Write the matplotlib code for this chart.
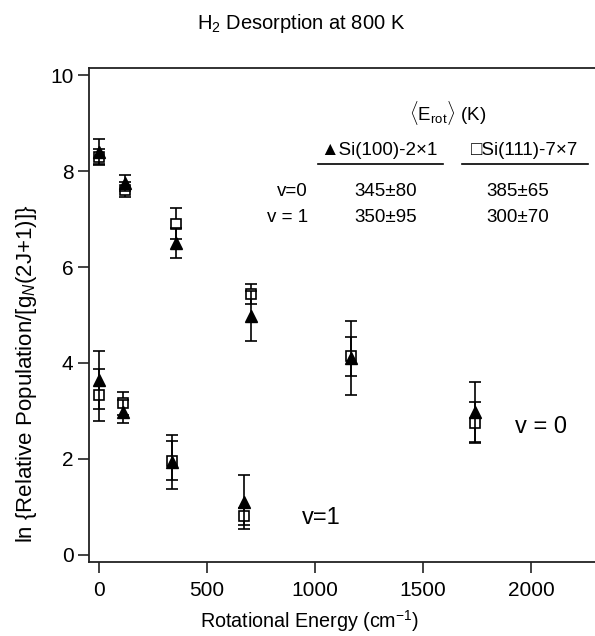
import matplotlib
matplotlib.use("Agg")
import matplotlib.pyplot as plt

plt.rcParams['font.family'] = ['Liberation Sans', 'DejaVu Sans']
plt.rcParams['mathtext.fontset'] = 'custom'
plt.rcParams['mathtext.rm'] = 'Liberation Sans'
plt.rcParams['mathtext.it'] = 'Liberation Sans:italic'
plt.rcParams['mathtext.bf'] = 'Liberation Sans:bold'

# ===== DATA =====
E_v0 = [0, 118, 354, 705, 1168, 1741]          # rotational energy, cm-1
E_v1 = [0, 112, 338, 673]

si100_v0     = [8.41, 7.75, 6.51, 4.98, 4.10, 2.98]
si100_v0_err = [0.26, 0.17, 0.31, 0.52, 0.78, 0.63]
si111_v0     = [8.30, 7.62, 6.91, 5.44, 4.14, 2.75]
si111_v0_err = [0.17, 0.15, 0.32, 0.21, 0.41, 0.43]

si100_v1     = [3.64, 2.98, 1.93, 1.10]
si100_v1_err = [0.60, 0.24, 0.56, 0.56]
si111_v1     = [3.33, 3.16, 1.96, 0.80]
si111_v1_err = [0.54, 0.24, 0.41, 0.18]

surfaces  = ["Si(100)-2\u00d71", "Si(111)-7\u00d77"]
rows      = ["v=0", "v = 1"]
erot_vals = [["345\u00b180", "385\u00b165"],
             ["350\u00b195", "300\u00b170"]]

# ===== FIGURE =====
fig = plt.figure(figsize=(5.95, 6.36), dpi=100)
ax = fig.add_axes([0.1504, 0.1168, 0.8496, 0.7758])

sq_kw  = dict(fmt="s", ms=7, mfc="white", mec="black", mew=1.2,
              ecolor="black", elinewidth=1.2, capsize=4, capthick=1.2, zorder=3)
tri_kw = dict(fmt="^", ms=8.5, mfc="black", mec="black",
              ecolor="black", elinewidth=1.2, capsize=4, capthick=1.2, zorder=4)

ax.errorbar(E_v0, si111_v0, yerr=si111_v0_err, **sq_kw)
ax.errorbar(E_v1, si111_v1, yerr=si111_v1_err, **sq_kw)
ax.errorbar(E_v0, si100_v0, yerr=si100_v0_err, **tri_kw)
ax.errorbar(E_v1, si100_v1, yerr=si100_v1_err, **tri_kw)

ax.set_xlim(-45, 2297)
ax.set_ylim(-0.15, 10.15)
ax.set_xticks([0, 500, 1000, 1500, 2000])
ax.set_yticks([0, 2, 4, 6, 8, 10])
ax.tick_params(direction="out", length=8, width=1.2, labelsize=15, color="#222222")
ax.tick_params(axis="y", pad=3.5)
ax.tick_params(axis="x", pad=6)
ax.spines["right"].set_visible(False)
for s in ["left", "bottom", "top"]:
    ax.spines[s].set_linewidth(1.3)
    ax.spines[s].set_color("#222222")

ax.set_xlabel("Rotational Energy (cm$^{-1}$)", fontsize=14.2)
ax.xaxis.set_label_coords(0.435, -0.095)
ax.set_ylabel("ln {Relative Population/[g$_N$(2J+1)]}", fontsize=16)
ax.yaxis.set_label_coords(-0.1, 0.38)
fig.text(0.506, 0.963, "H$_2$ Desorption at 800 K", fontsize=14.5,
         ha="center", va="center")

# branch labels
ax.text(1926, 2.66, "v = 0", fontsize=17, ha="left", va="center")
ax.text(938, 0.76, "v=1", fontsize=17, ha="left", va="center")

# inset table
ax.text(1616, 9.22, r"$\langle\mathrm{E_{rot}}\rangle$ (K)", fontsize=13.5,
        ha="center", va="center")
ax.text(1295, 8.43, "\u25b2" + surfaces[0], fontsize=13.5, ha="center", va="center")
ax.text(1973, 8.43, "\u25a1" + surfaces[1], fontsize=13.5, ha="center", va="center")
ax.plot([1015, 1593], [8.15, 8.15], color="black", lw=1.2)
ax.plot([1681, 2265], [8.15, 8.15], color="black", lw=1.2)
for r, y in zip(range(2), [7.57, 7.03]):
    ax.text(968, y, rows[r], fontsize=13.5, ha="right", va="center")
    ax.text(1328, y, erot_vals[r][0], fontsize=13.5, ha="center", va="center")
    ax.text(1940, y, erot_vals[r][1], fontsize=13.5, ha="center", va="center")

fig.savefig("out.png", dpi=100)
